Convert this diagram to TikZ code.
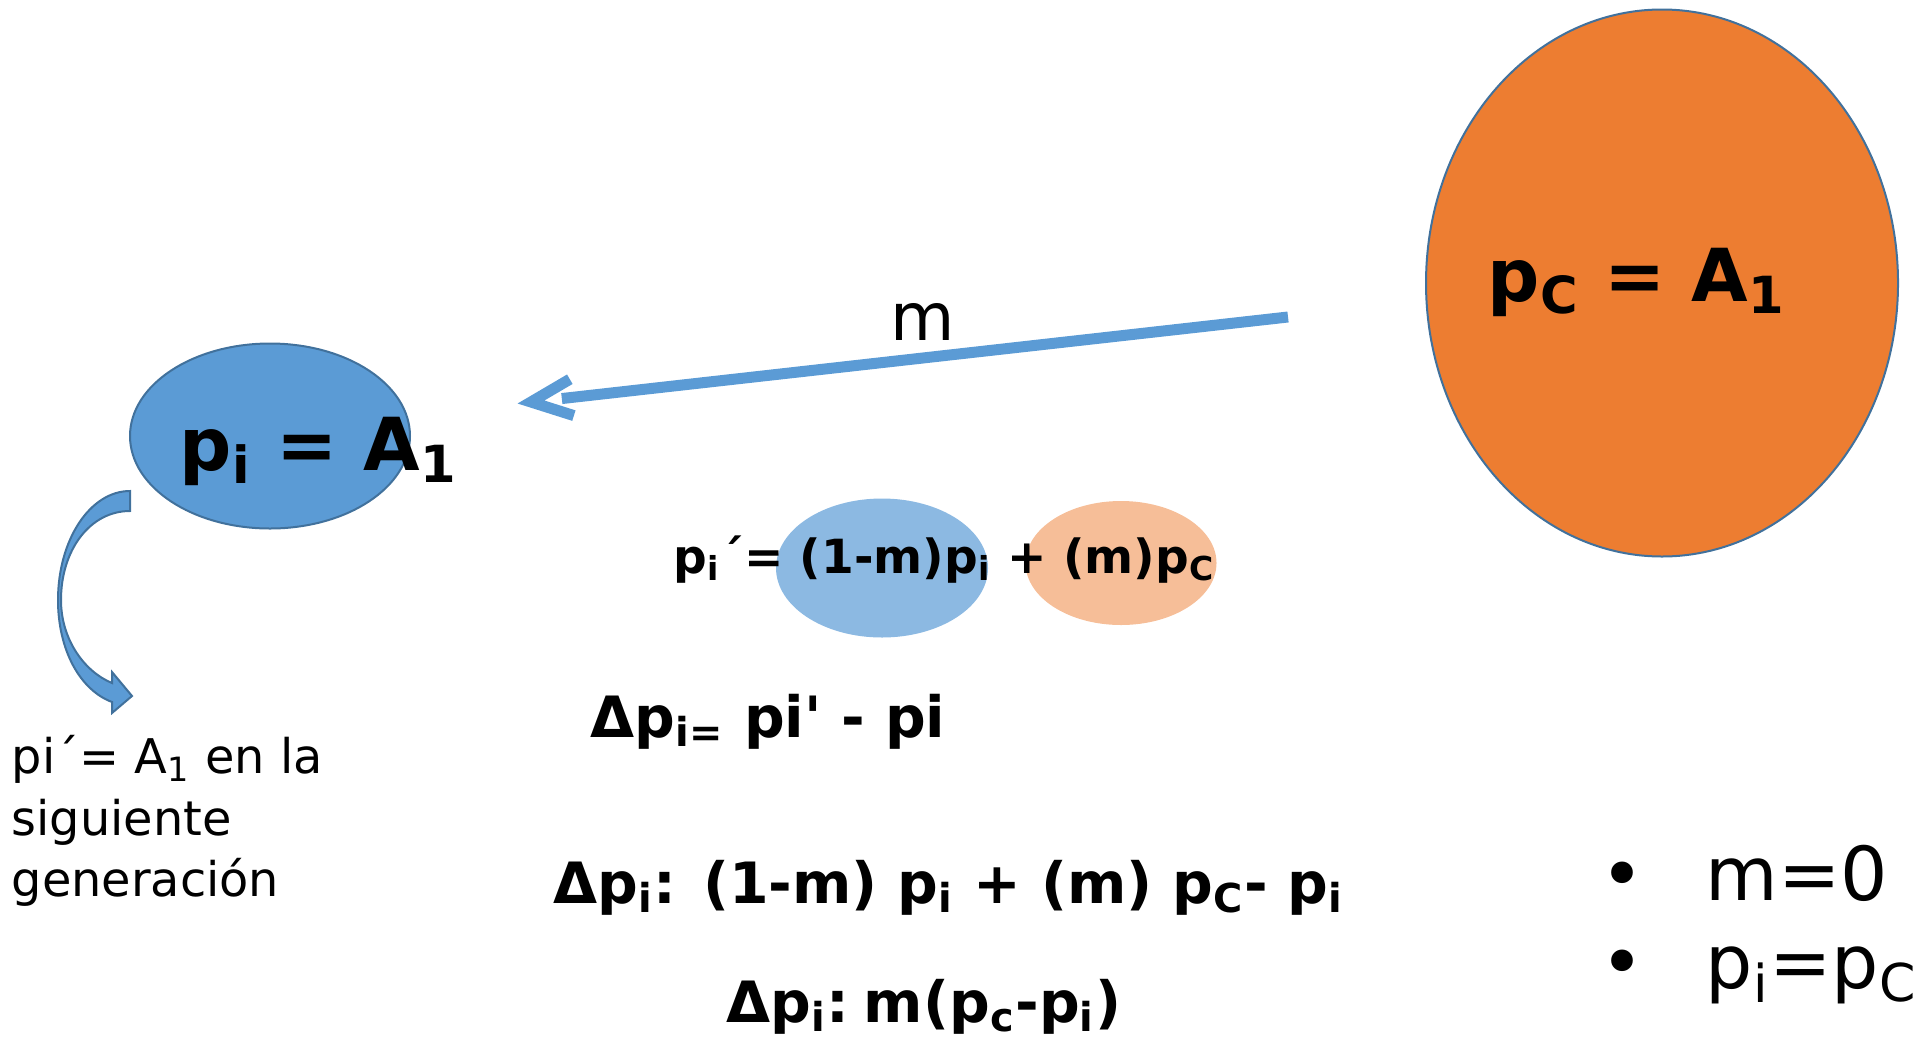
\documentclass[tikz,border=0pt]{standalone}
\usepackage{fontspec}
\setmainfont{DejaVu Sans}[Ligatures=TeXOff]
\usetikzlibrary{shapes.geometric,calc}
\definecolor{azulpi}{RGB}{91,155,213}
\definecolor{bordeazul}{RGB}{65,113,156}
\definecolor{naranjapc}{RGB}{237,125,49}

\begin{document}
\begin{tikzpicture}[x=0.1mm, y=-0.1mm,
    elipse/.style={ellipse, inner sep=0pt},
    texto/.style={inner sep=0pt, anchor=base west},
    flecha/.style={azulpi, line width=1.1mm}]
  \useasboundingbox (0,0) rectangle (1919,1041);
  % poblaciones
  \node[elipse, fill=azulpi, draw=bordeazul, line width=0.2mm,
        minimum width=28mm, minimum height=18.5mm] (pi) at (270,436) {};
  \node[elipse, fill=naranjapc, draw=bordeazul, line width=0.2mm,
        minimum width=47.2mm, minimum height=54.7mm] (pc) at (1662,283) {};
  \node[texto, font=\bfseries\fontsize{20.8}{25}\selectfont] (tpi) at (179,470)
    {p\textsubscript{i} = A\textsubscript{1}};
  \node[texto, font=\bfseries\fontsize{20.8}{25}\selectfont] (tpc) at (1487,301)
    {p\textsubscript{C} = A\textsubscript{1}};
  % migracion m
  \coordinate (mde) at (1288,317);
  \coordinate (ma) at (531,402);
  \draw[flecha, shorten >=3.1mm] (mde) -- (ma);
  \draw[flecha, line join=miter] ($(ma)!4.5mm!24:(mde)$) -- (ma) -- ($(ma)!4.5mm!-24:(mde)$);
  \node[inner sep=0pt, anchor=base, font=\fontsize{18.8}{22}\selectfont] (m) at (923,340) {m};
  % flecha curva a la siguiente generacion
  \fill[azulpi, draw=bordeazul, line width=0.2mm]
    (130,491) .. controls (90,491) and (58,540) .. (58,600)
    .. controls (58,650) and (80,690) .. (112,702) -- (112,713) -- (132,696)
    -- (112,672) -- (112,683) .. controls (85,672) and (61,640) .. (61,600)
    .. controls (61,550) and (90,511) .. (130,511) -- cycle;
  \node[inner sep=0pt, anchor=north west, align=left,
        font=\fontsize{13.6}{17.4}\selectfont] (nota) at (11,735)
    {pi´= A\textsubscript{1} en la\\siguiente\\generación};
  % ecuacion con fondos
  \node[elipse, fill=azulpi!70, minimum width=21.2mm, minimum height=13.9mm] (fondoi) at (882,568) {};
  \node[elipse, fill=naranjapc!50, minimum width=19.1mm, minimum height=12.4mm] (fondoc) at (1121,563) {};
  \node[texto, font=\bfseries\fontsize{13.4}{16}\selectfont] (ec) at (673,573)
    {p\textsubscript{i}´= (1-m)p\textsubscript{i} + (m)p\textsubscript{C}};
  % cambio de frecuencia
  \node[texto, font=\bfseries\fontsize{16.2}{19}\selectfont] (d1) at (590,737)
    {Δp\textsubscript{i=} pi' - pi};
  \node[texto, font=\bfseries\fontsize{16.2}{19}\selectfont] (d2) at (553,903)
    {Δp\textsubscript{i}: (1-m) p\textsubscript{i} + (m) p\textsubscript{C}- p\textsubscript{i}};
  \node[texto, font=\bfseries\fontsize{16.2}{19}\selectfont] (d3) at (726,1022)
    {Δp\textsubscript{i}:\hspace{0.25em}m(p\textsubscript{c}-p\textsubscript{i})};
  % equilibrio
  \foreach \y/\t in {900/{m=0}, 988/{p\textsubscript{i}=p\textsubscript{C}}} {
    \node[inner sep=0pt, anchor=base, font=\fontsize{21.2}{26}\selectfont] (b\y) at (1622,\y) {•};
    \node[texto, font=\fontsize{21.2}{26}\selectfont] (e\y) at (1705,\y) {\t};
  }
\end{tikzpicture}
\end{document}
